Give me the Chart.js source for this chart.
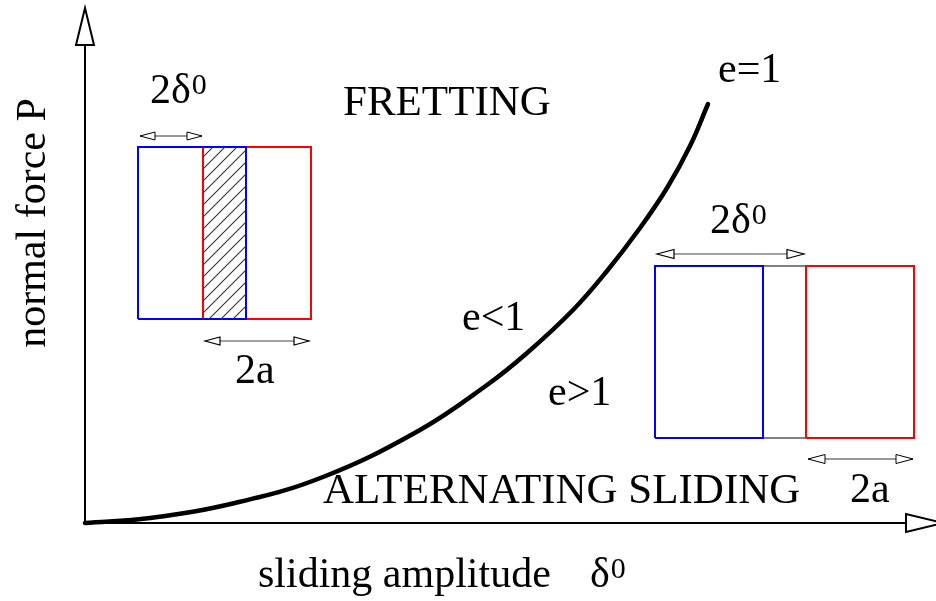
<!DOCTYPE html>
<html lang="en">
<head>
<meta charset="UTF-8">
<title>Fretting / alternating sliding map</title>
<script src="https://cdn.jsdelivr.net/npm/chart.js"></script>
<style>
    html, body { margin: 0; padding: 0; background: #fff; }
    #wrap { width: 936px; height: 601px; position: relative; }
</style>
</head>
<body>
<div id="wrap"><canvas id="mapChart"></canvas></div>
<script>

// boundary e = 1 (delta0 and P in arbitrary units)
var curveDelta = [0, 0.65, 1.50, 2.38, 3.35, 4.02, 4.42, 4.88, 5.22, 5.55, 5.82, 6.05, 6.23];
var curveP     = [0, 0.05, 0.20, 0.46, 0.93, 1.38, 1.70, 2.13, 2.52, 2.95, 3.35, 3.77, 4.19];

// contact zones: [left, right] in delta0, [bottom, top] in P
var frettingBlueX = [0.53, 1.61];
var frettingRedX  = [1.18, 2.26];
var frettingP     = [2.04, 3.76];
var slidingBlueX  = [5.70, 6.78];
var slidingRedX   = [7.21, 8.29];
var slidingP      = [0.85, 2.57];

// dimension arrows: [from, to] in delta0, and the P level they sit on
var frettingStrokeX = [0.55, 1.17];
var frettingStrokeP = 3.87;
var frettingWidthX  = [1.20, 2.24];
var frettingWidthP  = 1.82;
var slidingStrokeX  = [5.72, 7.19];
var slidingStrokeP  = 2.69;
var slidingWidthX   = [7.23, 8.28];
var slidingWidthP   = 0.64;

// axis ends and visible window
var axisEnd = [8.58, 5.15];
var xRange  = [-0.85, 8.51];
var yRange  = [-0.78, 5.23];

// texts
var regionLabels = ['FRETTING', 'ALTERNATING SLIDING'];
var curveLabels  = ['e=1', 'e<1', 'e>1'];
var xTitle = 'sliding amplitude';
var yTitle = 'normal force P';

function pts(xs, ys) {
    var out = [];
    for (var i = 0; i < xs.length; i++) out.push({ x: xs[i], y: ys[i] });
    return out;
}

function box(xs, ps) {
    return pts([xs[0], xs[1], xs[1], xs[0], xs[0]], [ps[0], ps[0], ps[1], ps[1], ps[0]]);
}

function hatchPattern() {
    var c = document.createElement('canvas');
    c.width = 12; c.height = 12;
    var g = c.getContext('2d');
    g.strokeStyle = '#333';
    g.lineWidth = 1.1;
    g.beginPath();
    g.moveTo(0, 12); g.lineTo(12, 0);
    g.moveTo(-2, 2); g.lineTo(2, -2);
    g.moveTo(10, 14); g.lineTo(14, 10);
    g.stroke();
    return g.createPattern(c, 'repeat');
}

function line(data, color, width, extra) {
    var ds = {
        data: data,
        showLine: true,
        borderColor: color,
        borderWidth: width,
        pointRadius: 0,
        tension: 0,
        fill: false
    };
    for (var k in extra) ds[k] = extra[k];
    return ds;
}

var datasets = [
    // axes
    line(pts([0, axisEnd[0]], [0, 0]), '#000', 2, { arrow: 'end', headLen: 37, headHalf: 9 }),
    line(pts([0, 0], [0, axisEnd[1]]), '#000', 2, { arrow: 'end', headLen: 37, headHalf: 9 }),
    // e = 1 boundary
    line(pts(curveDelta, curveP), '#000', 4.5, { tension: 0.4, borderCapStyle: 'round' }),
    // fretting sketch
    line(box(frettingRedX, frettingP), '#ff0000', 2),
    line(box(frettingBlueX, frettingP), '#0000ff', 2),
    line(pts([frettingRedX[0], frettingBlueX[1]], [frettingP[1], frettingP[1]]), 'rgba(0,0,0,0)', 0,
        { fill: { value: frettingP[0] }, backgroundColor: hatchPattern() }),
    line(pts(frettingStrokeX, [frettingStrokeP, frettingStrokeP]), '#333', 1, { arrow: 'both', headLen: 15, headHalf: 4 }),
    line(pts(frettingWidthX, [frettingWidthP, frettingWidthP]), '#444', 1.2, { arrow: 'both', headLen: 15, headHalf: 4 }),
    // sliding sketch
    line(pts([slidingBlueX[1], slidingRedX[0]], [slidingP[1], slidingP[1]]), '#555', 1.5),
    line(pts([slidingBlueX[1], slidingRedX[0]], [slidingP[0], slidingP[0]]), '#555', 1.5),
    line(box(slidingBlueX, slidingP), '#0000ff', 2),
    line(box(slidingRedX, slidingP), '#ff0000', 2),
    line(pts(slidingStrokeX, [slidingStrokeP, slidingStrokeP]), '#444', 1.2, { arrow: 'both', headLen: 17, headHalf: 4.5 }),
    line(pts(slidingWidthX, [slidingWidthP, slidingWidthP]), '#333', 1, { arrow: 'both', headLen: 17, headHalf: 4.5 })
];
// later datasets are drawn on top
datasets.forEach(function (ds, i) { ds.order = datasets.length - i; });

function drawHead(ctx, tx, ty, fx, fy, len, half, width) {
    var dx = tx - fx, dy = ty - fy;
    var d = Math.sqrt(dx * dx + dy * dy) || 1;
    var ux = dx / d, uy = dy / d;
    var bx = tx - ux * len, by = ty - uy * len;
    ctx.beginPath();
    ctx.moveTo(tx, ty);
    ctx.lineTo(bx - uy * half, by + ux * half);
    ctx.lineTo(bx + uy * half, by - ux * half);
    ctx.closePath();
    ctx.fillStyle = '#fff';
    ctx.fill();
    ctx.lineWidth = width;
    ctx.strokeStyle = '#000';
    ctx.stroke();
}

var arrowHeads = {
    id: 'arrowHeads',
    afterDatasetsDraw: function (chart) {
        var ctx = chart.ctx;
        chart.data.datasets.forEach(function (ds, i) {
            if (!ds.arrow) return;
            var p = chart.getDatasetMeta(i).data;
            var a = p[0], b = p[p.length - 1];
            ctx.save();
            ctx.lineJoin = 'miter';
            drawHead(ctx, b.x, b.y, a.x, a.y, ds.headLen, ds.headHalf, ds.borderWidth);
            if (ds.arrow === 'both') drawHead(ctx, a.x, a.y, b.x, b.y, ds.headLen, ds.headHalf, ds.borderWidth);
            ctx.restore();
        });
    }
};

var FONT = '"Liberation Serif", "Times New Roman", serif';

var labelPlugin = {
    id: 'labels',
    afterDraw: function (chart) {
        var ctx = chart.ctx;
        var sx = chart.scales.x, sy = chart.scales.y;
        function X(v) { return sx.getPixelForValue(v); }
        function Y(v) { return sy.getPixelForValue(v); }
        ctx.save();
        ctx.fillStyle = '#000';
        ctx.textBaseline = 'alphabetic';
        ctx.textAlign = 'left';

        function txt(s, x, y, size) {
            ctx.font = (size || 42) + 'px ' + FONT;
            ctx.fillText(s, X(x), Y(y));
            return X(x) + ctx.measureText(s).width;
        }
        function sup(s, px, y) {
            ctx.font = '30px ' + FONT;
            ctx.fillText(s, px + 1, Y(y) - 9);
        }

        txt(regionLabels[0], 2.58, 4.08, 43);
        txt(regionLabels[1], 2.38, 0.20, 43);
        txt(curveLabels[0], 6.33, 4.41);
        txt(curveLabels[1], 3.77, 1.93);
        txt(curveLabels[2], 4.63, 1.18);

        sup('0', txt('2\u03B4', 0.65, 4.20), 4.20);
        txt('2a', 1.50, 1.40);
        sup('0', txt('2\u03B4', 6.25, 2.90), 2.90);
        txt('2a', 7.65, 0.21);

        txt(xTitle, 1.73, -0.64);
        sup('0', txt('\u03B4', 5.05, -0.64), -0.64);

        ctx.font = '42px ' + FONT;
        ctx.translate(X(-0.40), Y(3.00));
        ctx.rotate(-Math.PI / 2);
        ctx.textAlign = 'center';
        ctx.fillText(yTitle, 0, 0);
        ctx.restore();
    }
};

var chart = new Chart(document.getElementById('mapChart').getContext('2d'), {
    type: 'scatter',
    data: { datasets: datasets },
    options: {
        responsive: true,
        maintainAspectRatio: false,
        animation: false,
        layout: { padding: 0 },
        plugins: { legend: { display: false }, tooltip: { enabled: false } },
        scales: {
            x: { type: 'linear', min: xRange[0], max: xRange[1], display: false },
            y: { type: 'linear', min: yRange[0], max: yRange[1], display: false }
        }
    },
    plugins: [arrowHeads, labelPlugin]
});

</script>
</body>
</html>
